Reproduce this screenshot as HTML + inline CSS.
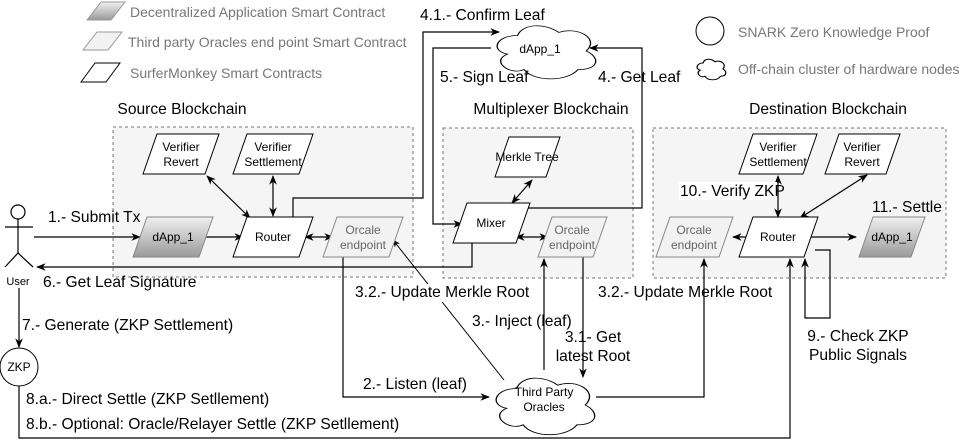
<!DOCTYPE html>
<html><head><meta charset="utf-8"><style>
html,body{margin:0;padding:0;background:#fff}
svg{display:block;font-family:"Liberation Sans",Arial,sans-serif}
.l{font-size:15.6px;fill:#000}
.n{font-size:12px;fill:#000;text-anchor:middle}
.g{font-size:14px;fill:#777}
</style></head><body>
<svg width="961" height="448" viewBox="0 0 961 448" xmlns="http://www.w3.org/2000/svg">
<defs>
<linearGradient id="gr" x1="0" y1="0" x2="0" y2="1"><stop offset="0" stop-color="#f0f0f0"/><stop offset="1" stop-color="#9a9a9a"/></linearGradient>
<marker id="a" viewBox="0 0 10 10" refX="9" refY="5" markerWidth="8" markerHeight="8" orient="auto-start-reverse"><path d="M0,1 L10,5 L0,9 L3,5 Z" fill="#000"/></marker>
<path id="cl" d="M0.25,0.25 C0.05,0.25 0,0.5 0.16,0.55 C0,0.66 0.18,0.9 0.31,0.8 C0.4,1 0.7,1 0.8,0.8 C1,0.8 1,0.6 0.875,0.5 C1,0.3 0.8,0.1 0.625,0.2 C0.5,0.05 0.3,0.05 0.25,0.25 Z"/>
</defs>

<polygon points="87,20 101,2 125,2 111,20" fill="url(#gr)" stroke="#999"/>
<polygon points="83,50 97,32 122,32 108,50" fill="#f2f2f2" stroke="#999"/>
<polygon points="81,82 95,63 120,63 106,82" fill="#fff" stroke="#000"/>
<text class="g" x="130" y="17">Decentralized Application Smart Contract</text>
<text class="g" x="128" y="47">Third party Oracles end point Smart Contract</text>
<text class="g" x="130" y="78">SurferMonkey Smart Contracts</text>
<circle cx="710" cy="31" r="14" fill="#fff" stroke="#000"/>
<use href="#cl" transform="translate(695,57) scale(32,24)" fill="#fff" stroke="#000" stroke-width="0.04"/>
<text class="g" x="738" y="37">SNARK Zero Knowledge Proof</text>
<text class="g" x="738" y="74">Off-chain cluster of hardware nodes</text>

<rect x="113" y="127" width="300" height="150" fill="#f5f5f5" stroke="#777" stroke-dasharray="3,3"/>
<rect x="443" y="128" width="190" height="150" fill="#f5f5f5" stroke="#777" stroke-dasharray="3,3"/>
<rect x="653" y="128" width="293" height="150" fill="#f5f5f5" stroke="#777" stroke-dasharray="3,3"/>
<text class="l" x="182" y="114" text-anchor="middle">Source Blockchain</text>
<text class="l" x="551" y="114" text-anchor="middle">Multiplexer Blockchain</text>
<text class="l" x="828" y="114" text-anchor="middle">Destination Blockchain</text>

<g stroke="#000" fill="none" stroke-width="1.2">
<line x1="34" y1="237" x2="140" y2="237" marker-end="url(#a)"/>
<line x1="203" y1="237" x2="243" y2="237" marker-end="url(#a)"/>
<line x1="207" y1="176" x2="250" y2="218" marker-start="url(#a)" marker-end="url(#a)"/>
<line x1="273" y1="176" x2="273" y2="216" marker-start="url(#a)" marker-end="url(#a)"/>
<line x1="305" y1="237" x2="333" y2="237" marker-start="url(#a)" marker-end="url(#a)"/>
<polyline points="293,217 293,198 423,198 423,32 499,32" marker-end="url(#a)"/>
<polyline points="491,48 433,48 433,224 462,224" marker-end="url(#a)"/>
<polyline points="527,208 642,208 642,48 590,48" marker-end="url(#a)"/>
<polyline points="472,243 472,267 37,267" marker-end="url(#a)"/>
<line x1="512" y1="203" x2="532" y2="180" marker-start="url(#a)" marker-end="url(#a)"/>
<line x1="516" y1="237" x2="548" y2="237" marker-start="url(#a)" marker-end="url(#a)"/>
<polyline points="343,257 343,397 489,397" marker-end="url(#a)"/>
<line x1="504" y1="380" x2="393" y2="240" marker-end="url(#a)" stroke-width="1"/>
<line x1="544" y1="370" x2="544" y2="259" marker-end="url(#a)"/>
<line x1="583" y1="257" x2="583" y2="377" marker-end="url(#a)"/>
<polyline points="596,397 704,397 704,259" marker-end="url(#a)"/>
<polyline points="19,386 19,438 790,438 790,259" marker-end="url(#a)"/>
<line x1="19" y1="288" x2="19" y2="347" marker-end="url(#a)"/>
<polyline points="815,250 830,250 830,318 805,318 805,259" marker-end="url(#a)"/>
<line x1="733" y1="237" x2="767" y2="237" marker-start="url(#a)" marker-end="url(#a)"/>
<line x1="778" y1="176" x2="778" y2="217" marker-start="url(#a)" marker-end="url(#a)"/>
<line x1="867" y1="175" x2="800" y2="218" marker-start="url(#a)" marker-end="url(#a)"/>
<line x1="808" y1="237" x2="856" y2="237" marker-end="url(#a)"/>
</g>

<g stroke="#000" stroke-width="1">
<polygon points="143,174 157,134 219,134 205,174" fill="#fff"/>
<polygon points="233,174 247,134 313,134 299,174" fill="#fff"/>
<polygon points="133,257 147,217 213,217 199,257" fill="url(#gr)" stroke="#888"/>
<polygon points="233,257 247,217 313,217 299,257" fill="#fff"/>
<polygon points="323,257 337,217 403,217 389,257" fill="#f2f2f2" stroke="#888"/>
<polygon points="495,177 509,137 560,137 546,177" fill="#fff"/>
<polygon points="453,243 467,203 530,203 516,243" fill="#fff"/>
<polygon points="538,257 552,217 607,217 593,257" fill="#f2f2f2" stroke="#888"/>
<polygon points="739,174 753,134 817,134 803,174" fill="#fff"/>
<polygon points="825,174 839,134 900,134 886,174" fill="#fff"/>
<polygon points="656,257 670,217 733,217 719,257" fill="#f2f2f2" stroke="#888"/>
<polygon points="739,257 753,217 818,217 804,257" fill="#fff"/>
<polygon points="859,257 873,217 925,217 911,257" fill="url(#gr)" stroke="#888"/>
</g>
<g class="n">
<text x="181" y="151">Verifier</text><text x="181" y="166">Revert</text>
<text x="273" y="151">Verifier</text><text x="273" y="166">Settlement</text>
<text x="173" y="241">dApp_1</text>
<text x="273" y="241">Router</text>
<text x="363" y="234" fill="#666">Orcale</text><text x="363" y="249" fill="#666">endpoint</text>
<text x="527" y="161">Merkle Tree</text>
<text x="491" y="227">Mixer</text>
<text x="572" y="234" fill="#666">Orcale</text><text x="572" y="249" fill="#666">endpoint</text>
<text x="778" y="151">Verifier</text><text x="778" y="166">Settlement</text>
<text x="862" y="151">Verifier</text><text x="862" y="166">Revert</text>
<text x="694" y="234" fill="#666">Orcale</text><text x="694" y="249" fill="#666">endpoint</text>
<text x="778" y="241">Router</text>
<text x="892" y="241">dApp_1</text>
</g>

<use href="#cl" transform="translate(490,20) scale(110,62)" fill="#fff" stroke="#000" stroke-width="0.012"/>
<text class="n" x="540" y="53">dApp_1</text>
<use href="#cl" transform="translate(489,372) scale(110,66)" fill="#fff" stroke="#000" stroke-width="0.012"/>
<text class="n" x="544" y="396">Third Party</text><text class="n" x="544" y="411">Oracles</text>

<g stroke="#000" fill="none" stroke-width="1.2">
<circle cx="18" cy="212" r="7" fill="#fff"/>
<line x1="18" y1="219" x2="18" y2="253"/>
<line x1="5" y1="227" x2="33" y2="227"/>
<polyline points="5,267 18,253 33,267"/>
</g>
<text class="n" x="18" y="285" style="font-size:11px">User</text>
<circle cx="19" cy="367" r="19" fill="#fff" stroke="#000"/>
<text class="n" x="19" y="371">ZKP</text>

<g class="l">
<rect x="352" y="284" width="180" height="18" fill="#fff"/>
<text x="48" y="222">1.- Submit Tx</text>
<text x="420" y="20">4.1.- Confirm Leaf</text>
<text x="440" y="82">5.- Sign Leaf</text>
<text x="598" y="82">4.- Get Leaf</text>
<text x="43" y="287">6.- Get Leaf Signature</text>
<text x="355" y="297">3.2.- Update Merkle Root</text>
<text x="598" y="297">3.2.- Update Merkle Root</text>
<text x="472" y="326">3.- Inject (leaf)</text>
<text x="593" y="342" text-anchor="middle">3.1- Get</text>
<text x="593" y="361" text-anchor="middle">latest Root</text>
<text x="363" y="389">2.- Listen (leaf)</text>
<text x="22" y="330">7.- Generate (ZKP Settlement)</text>
<text x="26" y="404">8.a.- Direct Settle (ZKP Setllement)</text>
<text x="26" y="429">8.b.- Optional: Oracle/Relayer Settle (ZKP Setllement)</text>
<text x="858" y="341" text-anchor="middle">9.- Check ZKP</text>
<text x="858" y="360" text-anchor="middle">Public Signals</text>
<rect x="679" y="182" width="98" height="18" fill="#fff"/>
<text x="680" y="196">10.- Verify ZKP</text>
<text x="872" y="212">11.- Settle</text>
</g>
</svg>
</body></html>
